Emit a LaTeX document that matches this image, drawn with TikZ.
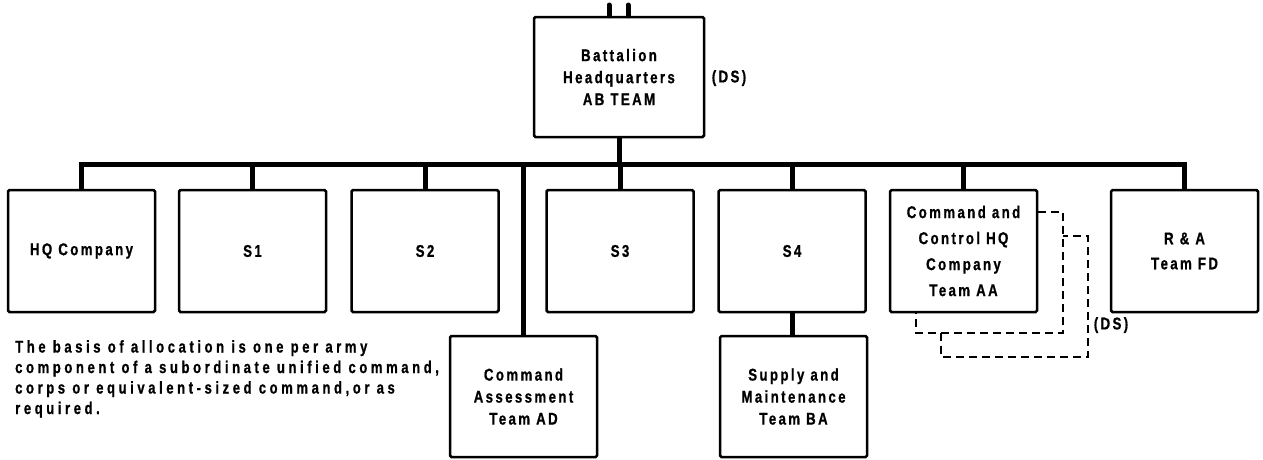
\documentclass[tikz,border=0pt]{standalone}
\usepackage{fontspec}
\setmainfont{Liberation Sans}
\newfontfamily\boxfont{Liberation Sans Bold}[FakeStretch=0.78,LetterSpace=14,FakeBold=0.8]
\newfontfamily\notefont{Liberation Sans Bold}[FakeStretch=0.77,LetterSpace=21,FakeBold=0.8]
\usetikzlibrary{calc}

\begin{document}
\begin{tikzpicture}[x=1pt,y=-1pt,
        box/.style={draw,line width=2.5pt,rounded corners=1.5pt,minimum width=147pt,minimum height=122pt,inner sep=0pt,align=center,font=\fontsize{17}{22}\boxfont},
        note/.style={align=left,inner sep=0pt,font=\fontsize{17}{20.5}\notefont},
        busline/.style={line width=5pt},
        dsline/.style={line width=2.5pt,dash pattern=on 8pt off 5pt}]
        \useasboundingbox (0,0) rectangle (1263,459);
        % top
        \node[box,minimum width=170pt,minimum height=120pt] (ab) at (619,77) {Battalion\\Headquarters\\AB TEAM};
        \node[box,draw=none,minimum size=0pt] (dsab) at (729,78) {(DS)};
        \coordinate (inl) at (609,5);
        \coordinate (inr) at (628,5);
        \coordinate (bus) at (0,164);
        % staff row
        \node[box] (hq) at (81.5,251) {HQ Company};
        \node[box] (sa) at (252.5,251) {S1};
        \node[box] (sb) at (425,251) {S2};
        \node[box] (sc) at (620,251) {S3};
        \node[box] (sd) at (792,251) {S4};
        \node[box,font=\fontsize{17}{26}\boxfont] (cc) at (963.5,251) {Command and\\Control HQ\\Company\\Team AA};
        \node[box,font=\fontsize{17}{25}\boxfont] (ra) at (1184.5,251) {R \& A\\Team FD};
        % lower row
        \node[box,minimum height=121pt] (ca) at (523.5,396.5) {Command\\Assessment\\Team AD};
        \node[box,minimum height=121pt] (sm) at (793.5,396.5) {Supply and\\Maintenance\\Team BA};
        \node[note,anchor=north west] (basis) at (15,340) {The basis of allocation is one per army\\component of a subordinate unified command,\\corps or equivalent-sized command,or as\\required.};
        \node[box,draw=none,minimum size=0pt] (dscc) at (1111,325) {(DS)};
        % lines
        \draw[busline,line cap=round] (inl) -- (inl |- ab.north);
        \draw[busline,line cap=round] (inr) -- (inr |- ab.north);
        \draw[busline] (ab.south) -- (ab.south |- bus);
        \draw[busline] (hq.north) -- (hq.north |- bus) -- (ra.north |- bus) -- (ra.north);
        \foreach \n in {sa,sb,sc,sd,cc,ca}
            \draw[busline] (\n.north) -- (\n.north |- bus);
        \draw[busline] (sd.south) -- (sd.south |- sm.north);
        \draw[dsline] (cc.east |- 0,212) -| (1063,333) -| (cc.south -| 916,0);
        \draw[dsline] (941,333) |- (1088,357) |- (1063,236);
\end{tikzpicture}
\end{document}
